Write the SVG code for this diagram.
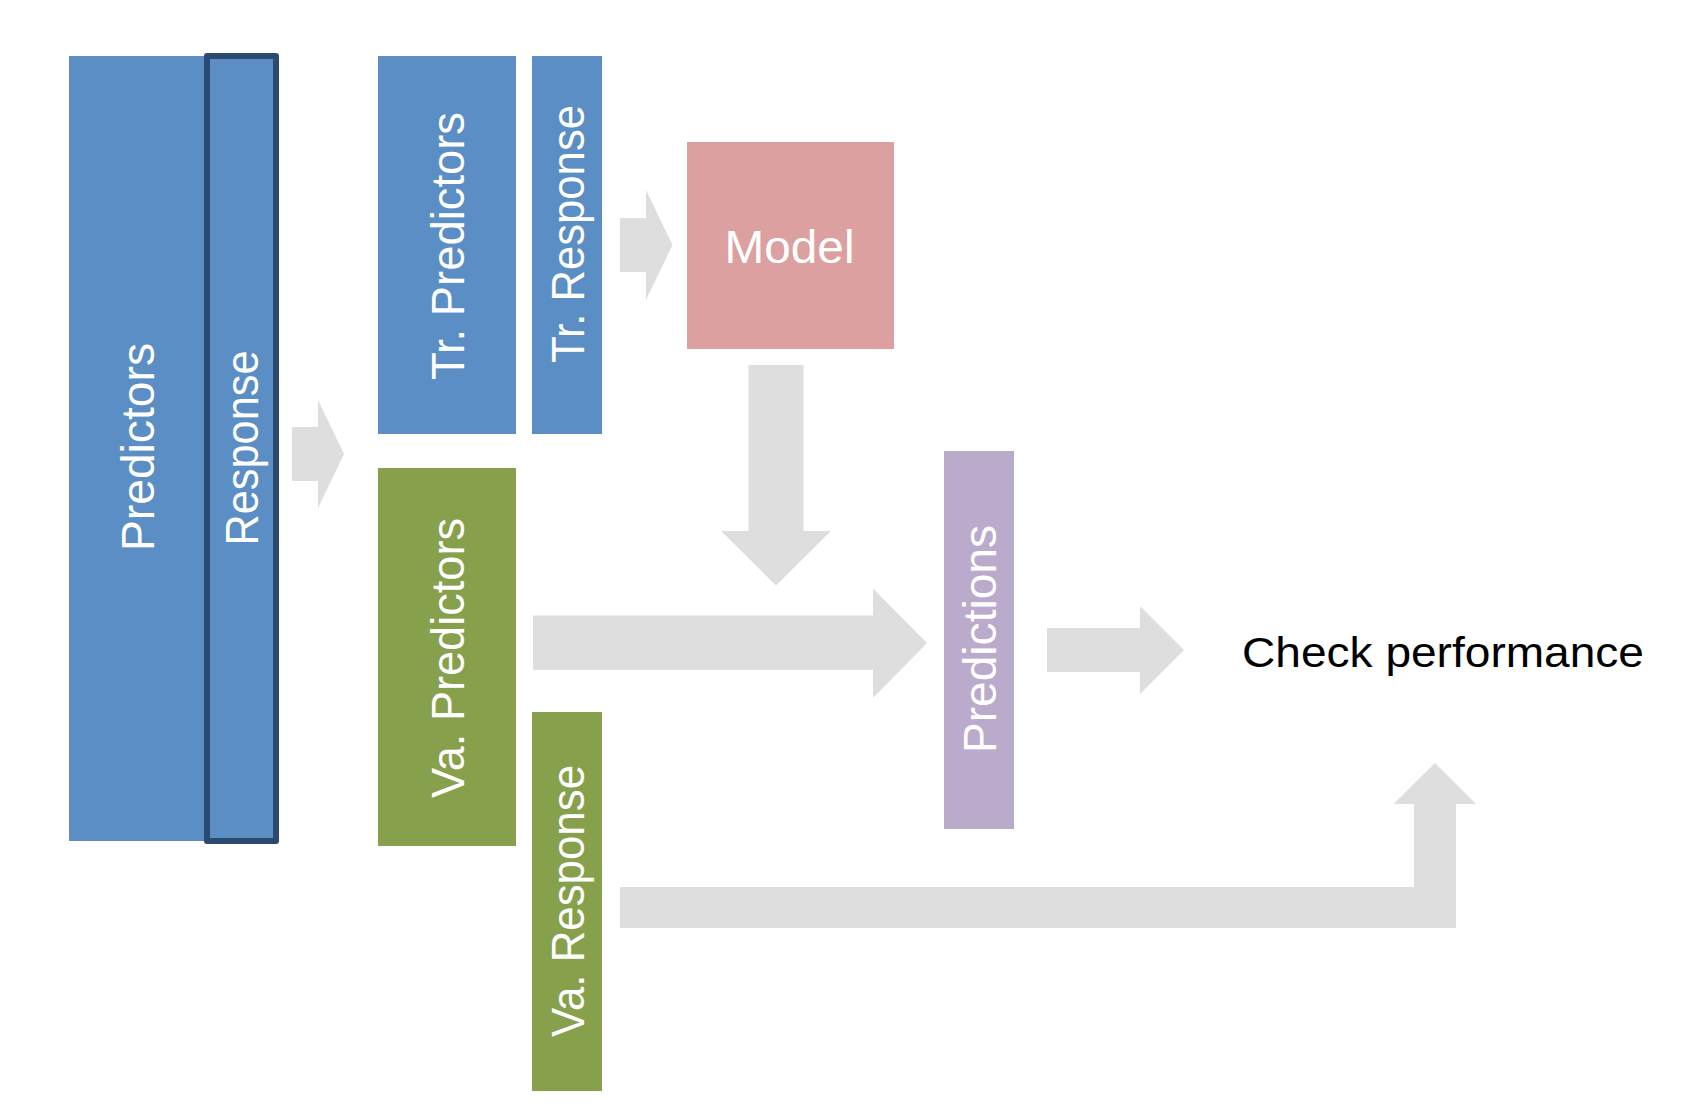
<svg xmlns="http://www.w3.org/2000/svg" width="1682" height="1114" viewBox="0 0 1682 1114">
  <style>
    .blue { fill: #5b8ec4; }
    .green { fill: #86a04c; }
    .pink { fill: #dba09f; }
    .purple { fill: #baaacc; }
    .arrow { fill: #dedede; stroke: none; }
    .lbl { font-family: "Liberation Sans", Arial, sans-serif; font-size: 46px; fill: #ffffff; text-anchor: middle; }
    .plain { font-family: "Liberation Sans", Arial, sans-serif; font-size: 43px; fill: #000000; }
  </style>
  <rect width="1682" height="1114" fill="#ffffff"/>

  <g id="connectors">
    <polygon class="arrow" points="292,427 318,427 318,400 344,454 318,508 318,481 292,481"/>
    <polygon class="arrow" points="620,218 646,218 646,190 672.5,245 646,300 646,272 620,272"/>
    <polygon class="arrow" points="748.5,365 803.5,365 803.5,531 831,531 776,585.5 721,531 748.5,531"/>
    <polygon class="arrow" points="533,615.5 873,615.5 873,588.5 927,643 873,698 873,670 533,670"/>
    <polygon class="arrow" points="1047,628 1140,628 1140,606 1184,650 1140,694 1140,672 1047,672"/>
    <polygon class="arrow" points="620,887 1414,887 1414,804 1393.5,804 1435,763 1476,804 1456,804 1456,928 620,928"/>
  </g>

  <g id="predictors">
    <rect class="blue" x="69" y="56" width="137" height="785"/>
    <text class="lbl" transform="translate(154,447) rotate(-90)" textLength="208" lengthAdjust="spacingAndGlyphs">Predictors</text>
  </g>
  <g id="response">
    <rect class="blue" x="207" y="56" width="69" height="785" stroke="#2c4a70" stroke-width="6" stroke-linejoin="round"/>
    <text class="lbl" transform="translate(258,448) rotate(-90)" textLength="195" lengthAdjust="spacingAndGlyphs">Response</text>
  </g>
  <g id="tr-predictors">
    <rect class="blue" x="378" y="56" width="138" height="378"/>
    <text class="lbl" transform="translate(464,246) rotate(-90)" textLength="268" lengthAdjust="spacingAndGlyphs">Tr. Predictors</text>
  </g>
  <g id="tr-response">
    <rect class="blue" x="532" y="56" width="70" height="378"/>
    <text class="lbl" transform="translate(584,234) rotate(-90)" textLength="258" lengthAdjust="spacingAndGlyphs">Tr. Response</text>
  </g>
  <g id="model">
    <rect class="pink" x="687" y="142" width="207" height="207"/>
    <text class="lbl" x="789.5" y="262.5" textLength="130" lengthAdjust="spacingAndGlyphs">Model</text>
  </g>
  <g id="va-predictors">
    <rect class="green" x="378" y="468" width="138" height="378"/>
    <text class="lbl" transform="translate(464,658) rotate(-90)" textLength="280" lengthAdjust="spacingAndGlyphs">Va. Predictors</text>
  </g>
  <g id="va-response">
    <rect class="green" x="532" y="712" width="70" height="379"/>
    <text class="lbl" transform="translate(584,901) rotate(-90)" textLength="272" lengthAdjust="spacingAndGlyphs">Va. Response</text>
  </g>
  <g id="predictions">
    <rect class="purple" x="944" y="451" width="70" height="378"/>
    <text class="lbl" transform="translate(996,639) rotate(-90)" textLength="228" lengthAdjust="spacingAndGlyphs">Predictions</text>
  </g>
  <g id="check-performance">
    <text class="plain" x="1242" y="666.5" textLength="402" lengthAdjust="spacingAndGlyphs">Check performance</text>
  </g>
</svg>
